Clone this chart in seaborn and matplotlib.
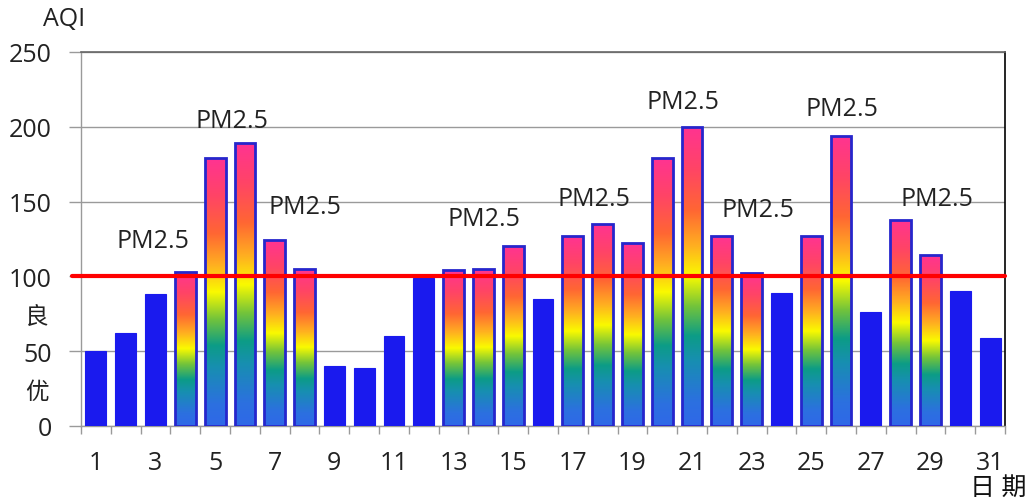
import numpy as np
import pandas as pd
import matplotlib
matplotlib.use("Agg")
import matplotlib.pyplot as plt
from matplotlib.colors import LinearSegmentedColormap
from matplotlib.ticker import FixedLocator
import seaborn as sns

# ---- data ----
days = list(range(1, 32))
aqi = [50, 62, 88, 103, 179, 189, 124, 105, 40, 39, 60, 99, 104, 105, 120, 85,
       127, 135, 122, 179, 200, 127, 102, 89, 127, 194, 76, 138, 114, 90, 59]
threshold = 100
y_ticks = [0, 50, 100, 150, 200, 250]
x_tick_labels = [str(d) for d in days[::2]]
label_text = "PM2.5"
grade_labels = ["良", "优"]
grade_values = [73, 23]

sns.set_theme(style="white")
plt.rcParams['font.family'] = ['Open Sans', 'Noto Sans CJK SC', 'DejaVu Sans']

fig = plt.figure(figsize=(10.27, 5.02), dpi=100)
ax = fig.add_axes([81/1027, 1-427/502, 924/1027, 374/502])

df = pd.DataFrame({"day": [str(d) for d in days], "aqi": aqi})
sns.barplot(data=df, x="day", y="aqi", color="#1a1aee", saturation=1,
            width=0.7, ax=ax, edgecolor="#1a1aee", linewidth=0.8)

cmap = LinearSegmentedColormap.from_list("aqi", [
    (0.00, "#2f68e8"), (0.08, "#2c70e0"), (0.22, "#178fb0"), (0.30, "#0c9c86"),
    (0.40, "#74c43a"), (0.50, "#fafa00"), (0.60, "#ffb020"), (0.72, "#ff6633"),
    (0.86, "#ff4466"), (1.00, "#ff3392")])
grad = np.linspace(0, 1, 256).reshape(-1, 1)

for patch, v in zip(ax.patches, aqi):
    patch.set_zorder(3)
    if v > threshold:
        x0 = patch.get_x(); w = patch.get_width(); h = patch.get_height()
        im = ax.imshow(grad, extent=[x0, x0 + w, 0, h], aspect='auto',
                       cmap=cmap, origin='lower', zorder=2.5, interpolation='bilinear')
        im.set_clip_path(patch)
        patch.set_facecolor('none')
        patch.set_edgecolor('#2626cc')
        patch.set_linewidth(2.0)

ax.set_xlim(-0.5, 30.5)
ax.set_ylim(0, 250)
ax.set_aspect('auto')

# grid
ax.set_yticks(y_ticks)
ax.yaxis.grid(True, color="#9a9a9a", linewidth=1.0)
ax.set_axisbelow(True)

ax.axhline(threshold, xmin=-0.01, xmax=1, color="#ff0000", linewidth=3.0,
           zorder=5, clip_on=False)

# ticks
ax.set_xticks(list(range(0, 31, 2)))
ax.set_xticklabels(x_tick_labels)
ax.xaxis.set_minor_locator(FixedLocator(np.arange(-0.5, 31, 1)))
ax.tick_params(axis='x', which='major', length=0, pad=17, labelsize=18, labelcolor="#222222")
ax.tick_params(axis='x', which='minor', length=6, width=1, color="#9a9a9a", bottom=True)
ax.tick_params(axis='y', which='major', length=9, width=1, color="#9a9a9a", pad=12,
               labelsize=18, labelcolor="#222222", left=True)
ax.set_xlabel("")
ax.set_ylabel("")

for s in ["left", "bottom"]:
    ax.spines[s].set_color("#9a9a9a")
    ax.spines[s].set_linewidth(1.0)
ax.spines["top"].set_color("#666666")
ax.spines["top"].set_linewidth(1.2)
ax.spines["right"].set_color("#000000")
ax.spines["right"].set_linewidth(1.2)

# annotations
label_pos = [(1.92, 124), (4.57, 204), (7.02, 147), (13.02, 139), (16.7, 152),
             (19.7, 217), (22.2, 145), (25.04, 212), (28.2, 152)]
for (px, py) in label_pos:
    ax.text(px, py, label_text, ha='center', va='center', fontsize=18,
            color="#222222", zorder=6)

for t, v in zip(grade_labels, grade_values):
    ax.text(-0.048, v, t, transform=ax.get_yaxis_transform(), ha='center',
            va='center', fontsize=17, color="#222222")

fig.text(64/1027, 1-20/502, "AQI", ha='center', va='center', fontsize=18, color="#222222")
fig.text(998/1027, 1-488/502, "日 期", ha='center', va='center', fontsize=18, color="#111111")

fig.savefig("out.png", dpi=100)
